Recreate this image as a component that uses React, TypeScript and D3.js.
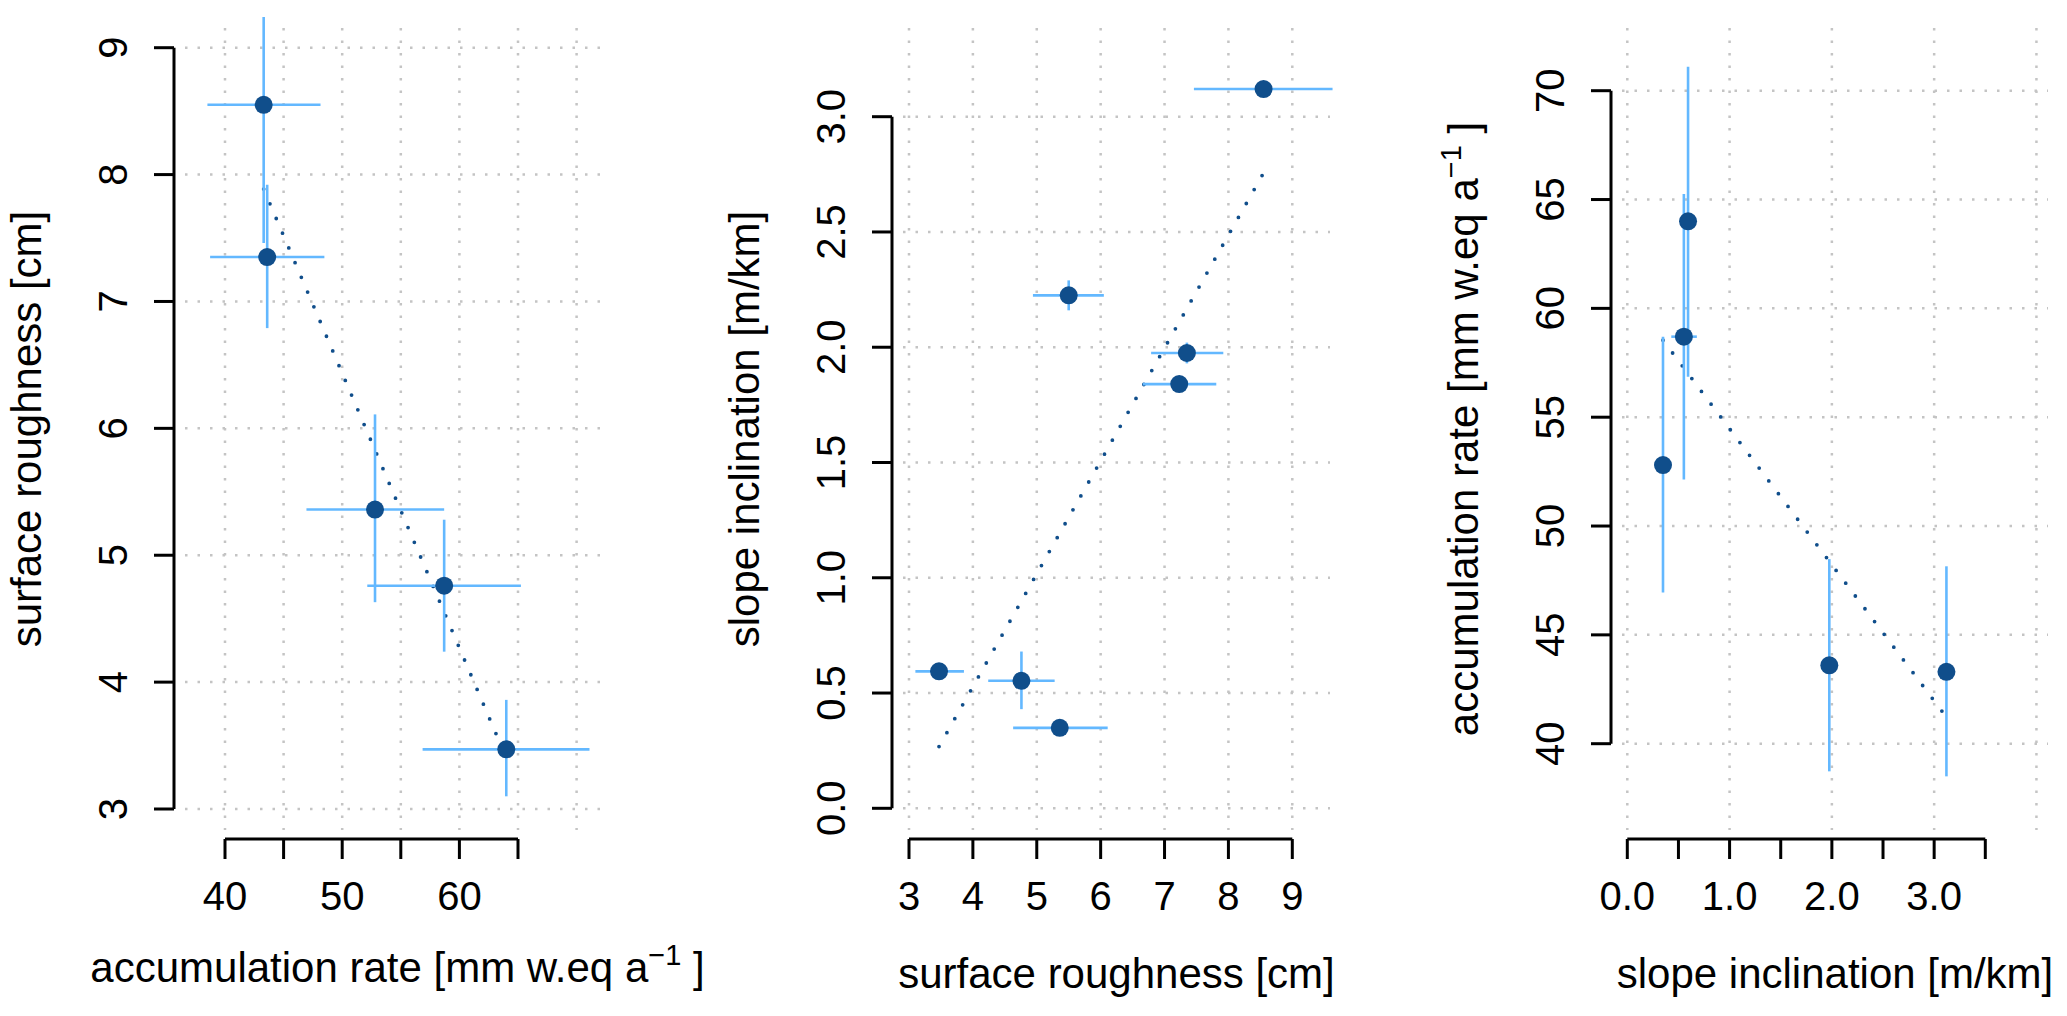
import React from "react";
import * as d3 from "d3";

// sites A–E appear in all three panels, F and G only in the middle one
const roughness = [8.55, 7.35, 5.36, 4.76, 3.47, 5.5, 7.23];
const roughnessLo = [7.46, 6.79, 4.63, 4.24, 3.1, 4.94, 6.66];
const roughnessHi = [9.63, 7.92, 6.11, 5.28, 3.86, 6.05, 7.81];

const slope = [3.12, 1.975, 0.349, 0.553, 0.594, 2.225, 1.84];
const slopeLo = [3.09, 1.93, 0.33, 0.43, 0.57, 2.16, 1.81];
const slopeHi = [3.15, 2.02, 0.37, 0.68, 0.62, 2.29, 1.87];

const accumulation = [43.3, 43.6, 52.8, 58.7, 64.0];
const accumulationLo = [38.5, 38.73, 46.95, 52.14, 56.86];
const accumulationHi = [48.15, 48.48, 58.7, 65.25, 71.1];

const accTicks = [40, 45, 50, 55, 60, 65];
const accAxisTicks = [40, 45, 50, 55, 60, 65, 70];
const accGrid = [40, 45, 50, 55, 60, 65, 70];
const roughTicks = [3, 4, 5, 6, 7, 8, 9];
const slopeYTicks = [0, 0.5, 1, 1.5, 2, 2.5, 3];
const slopeXTicks = [0, 0.5, 1, 1.5, 2, 2.5, 3, 3.5];
const slopeXGrid = [0, 1, 2, 3, 4];

const FONT = "'Liberation Sans', Arial, Helvetica, sans-serif";
const DARK = "#104E8B";
const LIGHT = "#63B8FF";
const GRID = "#C4C4C4";

const W = 2067;
const H = 1016;
const TOP = 28;
const BOTTOM = 830;
const XAXIS_Y = 839;
const TICK = 20;

function fit(xs: number[], ys: number[]) {
  const mx = d3.mean(xs)!;
  const my = d3.mean(ys)!;
  const sxy = d3.sum(xs, (x, i) => (x - mx) * (ys[i] - my));
  const sxx = d3.sum(xs, (x) => (x - mx) ** 2);
  const b = sxy / sxx;
  return (x: number) => my + b * (x - mx);
}

interface PanelProps {
  xs: number[];
  ys: number[];
  xLo: number[];
  xHi: number[];
  yLo: number[];
  yHi: number[];
  x: d3.ScaleLinear<number, number>;
  y: d3.ScaleLinear<number, number>;
  left: number;
  right: number;
  axisX: number;
  xTicks: number[];
  xFmt: (v: number) => string;
  yTicks: number[];
  yFmt: (v: number) => string;
  gridX: number[];
  gridY: number[];
  xLabel: React.ReactNode;
  xLabelY: number;
  yLabel: React.ReactNode;
}

function Panel(p: PanelProps) {
  const line = fit(p.xs, p.ys);
  const [x0, x1] = d3.extent(p.xs) as [number, number];
  const cx = (p.left + p.right) / 2;
  const cy = (TOP + BOTTOM) / 2;
  return (
    <g>
      {p.gridX.map((g) => (
        <line key={"gx" + g} x1={p.x(g)} x2={p.x(g)} y1={TOP} y2={BOTTOM}
          stroke={GRID} strokeWidth={2.5} strokeDasharray="2.5 10" />
      ))}
      {p.gridY.map((g) => (
        <line key={"gy" + g} x1={p.left} x2={p.right} y1={p.y(g)} y2={p.y(g)}
          stroke={GRID} strokeWidth={2.5} strokeDasharray="2.5 10" />
      ))}

      <line x1={p.x(x0)} y1={p.y(line(x0))} x2={p.x(x1)} y2={p.y(line(x1))}
        stroke={DARK} strokeWidth={3.8} strokeLinecap="round" strokeDasharray="0 16" />

      <g clipPath="url(#clip)" stroke={LIGHT} strokeWidth={2.6}>
        {p.xs.map((v, i) => (
          <g key={i}>
            <line x1={p.x(p.xLo[i])} x2={p.x(p.xHi[i])} y1={p.y(p.ys[i])} y2={p.y(p.ys[i])} />
            <line x1={p.x(v)} x2={p.x(v)} y1={p.y(p.yLo[i])} y2={p.y(p.yHi[i])} />
          </g>
        ))}
      </g>

      {p.xs.map((v, i) => (
        <circle key={i} cx={p.x(v)} cy={p.y(p.ys[i])} r={9} fill={DARK} />
      ))}

      {/* axes */}
      <g stroke="#000" strokeWidth={3} fill="none">
        <line x1={p.x(p.xTicks[0])} x2={p.x(p.xTicks[p.xTicks.length - 1])} y1={XAXIS_Y} y2={XAXIS_Y} />
        {p.xTicks.map((t) => (
          <line key={t} x1={p.x(t)} x2={p.x(t)} y1={XAXIS_Y} y2={XAXIS_Y + TICK} />
        ))}
        <line x1={p.axisX} x2={p.axisX} y1={p.y(p.yTicks[0])} y2={p.y(p.yTicks[p.yTicks.length - 1])} />
        {p.yTicks.map((t) => (
          <line key={t} x1={p.axisX - TICK} x2={p.axisX} y1={p.y(t)} y2={p.y(t)} />
        ))}
      </g>
      <g fontFamily={FONT} fontSize={40} fill="#000">
        {p.xTicks.map((t) => (
          <text key={t} x={p.x(t)} y={910} textAnchor="middle">{p.xFmt(t)}</text>
        ))}
        {p.yTicks.map((t) => (
          <text key={t} transform={`translate(${p.axisX - 47},${p.y(t)}) rotate(-90)`} textAnchor="middle">
            {p.yFmt(t)}
          </text>
        ))}
        <text x={cx} y={p.xLabelY} textAnchor="middle" fontSize={42}>{p.xLabel}</text>
        <text transform={`translate(${p.axisX - 133},${cy}) rotate(-90)`} textAnchor="middle" fontSize={42}>
          {p.yLabel}
        </text>
      </g>
    </g>
  );
}

const accLabel = (
  <>
    accumulation rate [mm w.eq a
    <tspan dy={-17} fontSize={29}>{"\u22121"}</tspan>
    <tspan dy={17}>{"\u00a0]"}</tspan>
  </>
);

export default function App() {
  const sites5 = [0, 1, 2, 3, 4];
  const pick = (a: number[]) => sites5.map((i) => a[i]);

  const x1 = d3.scaleLinear().domain([40, 65]).range([225, 518]);
  const y1 = d3.scaleLinear().domain([3, 9]).range([809, 47.7]);
  const x2 = d3.scaleLinear().domain([3, 9]).range([909, 1292.3]);
  const y2 = d3.scaleLinear().domain([0, 3]).range([808.3, 116.7]);
  const x3 = d3.scaleLinear().domain([0, 3.5]).range([1627.3, 1985.3]);
  const y3 = d3.scaleLinear().domain([40, 70]).range([743.7, 90.7]);

  const f1 = d3.format(".1f");

  return (
    <svg width={W} height={H} viewBox={`0 0 ${W} ${H}`}
      style={{ position: "absolute", left: 0, top: 0, background: "#fff" }}>
      <defs>
        <clipPath id="clip">
          <rect x={0} y={17} width={W} height={H - 17} />
        </clipPath>
      </defs>
      <rect width={W} height={H} fill="#fff" />

      <Panel
        xs={accumulation} ys={pick(roughness)}
        xLo={accumulationLo} xHi={accumulationHi}
        yLo={pick(roughnessLo)} yHi={pick(roughnessHi)}
        x={x1} y={y1} left={185} right={610} axisX={174}
        xTicks={accTicks} xFmt={(v) => (v % 10 === 0 ? String(v) : "")}
        yTicks={roughTicks} yFmt={String}
        gridX={accGrid} gridY={roughTicks}
        xLabel={accLabel} xLabelY={982}
        yLabel="surface roughness [cm]"
      />
      <Panel
        xs={roughness} ys={slope}
        xLo={roughnessLo} xHi={roughnessHi}
        yLo={slopeLo} yHi={slopeHi}
        x={x2} y={y2} left={903} right={1330} axisX={892}
        xTicks={roughTicks} xFmt={String}
        yTicks={slopeYTicks} yFmt={f1}
        gridX={roughTicks} gridY={slopeYTicks}
        xLabel="surface roughness [cm]" xLabelY={988}
        yLabel="slope inclination [m/km]"
      />
      <Panel
        xs={pick(slope)} ys={accumulation}
        xLo={pick(slopeLo)} xHi={pick(slopeHi)}
        yLo={accumulationLo} yHi={accumulationHi}
        x={x3} y={y3} left={1622} right={2048} axisX={1611}
        xTicks={slopeXTicks} xFmt={(v) => (Number.isInteger(v) ? f1(v) : "")}
        yTicks={accAxisTicks} yFmt={String}
        gridX={slopeXGrid} gridY={accGrid}
        xLabel="slope inclination [m/km]" xLabelY={988}
        yLabel={accLabel}
      />
    </svg>
  );
}
